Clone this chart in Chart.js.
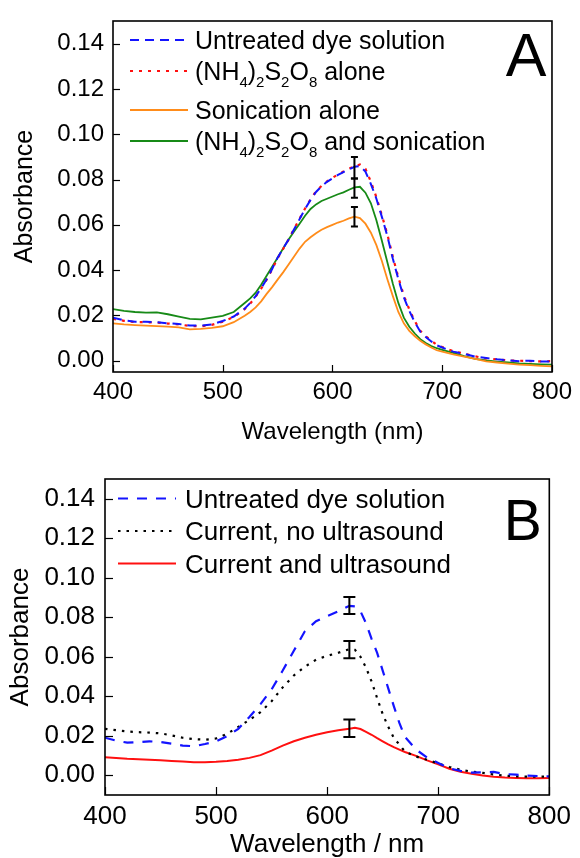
<!DOCTYPE html>
<html>
<head>
<meta charset="utf-8">
<script src="https://cdn.jsdelivr.net/npm/chart.js@4.4.1/dist/chart.umd.min.js"></script>
<style>
  html, body { margin: 0; padding: 0; background: #fff; }
  #wrap { position: relative; width: 580px; height: 858px; overflow: hidden; }
  canvas { position: absolute; left: 0; }
  #chartA { top: 0; }
  #chartB { top: 450px; }
</style>
</head>
<body>
<div id="wrap">
  <canvas id="chartA" width="580" height="450"></canvas>
  <canvas id="chartB" width="580" height="408"></canvas>
</div>
<script>
// ---- panel A data (wavelength in nm, absorbance) ----
const wlA = [400,410,420,430,440,450,460,470,480,490,500,510,520,
  525,530,535,540,545,550,555,560,565,570,575,580,585,590,595,600,605,610,615,620,625,630,635,640,645,650,655,660,665,670,675,680,685,690,695,700,
  710,720,730,740,750,760,770,780,790,800];

const untreatedA = [.0190,.0178,.0172,.0172,.0170,.0165,.0162,.0155,.0155,.0160,.0175,.0195,.0230,
  .0255,.0285,.0320,.0360,.0405,.0455,.0495,.0535,.0580,.0625,.0670,.0710,.0745,.0770,.0790,.0805,.0820,.0833,.0845,.0856,.0860,.0835,.0780,.0715,.0635,.0550,.0450,.0360,.0280,.0220,.0170,.0128,.0105,.0085,.0068,.0058,
  .0040,.0030,.0018,.0012,.0006,.0002,-.0002,.0000,-.0004,-.0003];

const persulfateA = [.0185,.0176,.0170,.0170,.0168,.0164,.0160,.0153,.0152,.0158,.0172,.0193,.0228,
  .0252,.0283,.0318,.0358,.0403,.0452,.0493,.0535,.0582,.0627,.0672,.0712,.0748,.0772,.0792,.0808,.0822,.0835,.0848,.0858,.0866,.0848,.0790,.0722,.0642,.0558,.0458,.0368,.0288,.0226,.0175,.0132,.0108,.0088,.0070,.0060,
  .0042,.0031,.0019,.0010,.0006,.0001,.0000,-.0002,-.0003,-.0002];

const sonicationA = [.0165,.0160,.0157,.0155,.0153,.0150,.0147,.0138,.0140,.0145,.0152,.0170,.0198,
  .0215,.0235,.0262,.0295,.0325,.0358,.0390,.0425,.0460,.0495,.0525,.0545,.0563,.0578,.0590,.0600,.0610,.0618,.0628,.0636,.0630,.0605,.0565,.0510,.0440,.0360,.0285,.0215,.0165,.0132,.0108,.0088,.0072,.0058,.0046,.0040,
  .0028,.0018,.0008,-.0003,-.0008,-.0013,-.0017,-.0020,-.0023,-.0025];

const bothA = [.0228,.0220,.0215,.0212,.0213,.0205,.0195,.0185,.0182,.0190,.0198,.0215,.0255,
  .0275,.0300,.0335,.0375,.0415,.0455,.0495,.0535,.0570,.0605,.0640,.0670,.0690,.0705,.0715,.0725,.0735,.0743,.0755,.0765,.0768,.0742,.0695,.0620,.0530,.0435,.0340,.0255,.0190,.0150,.0120,.0095,.0078,.0065,.0055,.0048,
  .0034,.0020,.0008,.0001,-.0004,-.0008,-.0012,-.0014,-.0016,-.0017];

const errWlA = [620, 620, 620];
const errMidA = [0.0852, 0.0762, 0.0636];
const errHalfA = [0.0047, 0.0043, 0.0043];

// ---- panel B data ----
const wlB = [400,410,420,430,440,450,460,470,480,490,500,510,520,530,540,550,560,570,580,590,600,610,
  620,625,630,635,640,645,650,655,660,665,670,
  680,690,700,710,720,730,740,750,760,770,780,790,800];

const untreatedB = [.0190,.0175,.0165,.0168,.0172,.0168,.0160,.0150,.0147,.0158,.0172,.0198,.0235,.0295,.0360,.0435,.0530,.0630,.0730,.0780,.0805,.0830,
  .0858,.0855,.0830,.0770,.0690,.0620,.0530,.0440,.0350,.0265,.0195,
  .0130,.0090,.0062,.0035,.0022,.0013,.0015,.0017,.0006,.0003,-.0002,-.0004,-.0006];

const currentB = [.0235,.0228,.0222,.0218,.0216,.0212,.0202,.0190,.0183,.0180,.0186,.0210,.0245,.0280,.0320,.0375,.0445,.0505,.0550,.0585,.0605,.0620,
  .0638,.0635,.0600,.0545,.0475,.0390,.0310,.0245,.0190,.0155,.0120,
  .0095,.0078,.0060,.0042,.0028,.0018,.0012,.0004,-.0002,-.0006,-.0007,-.0007,-.0006];

const currentUltraB = [.0091,.0087,.0083,.0081,.0079,.0076,.0072,.0069,.0066,.0066,.0068,.0072,.0078,.0088,.0102,.0125,.0150,.0172,.0190,.0205,.0218,.0228,
  .0236,.0240,.0234,.0220,.0205,.0188,.0172,.0156,.0142,.0130,.0118,
  .0098,.0075,.0055,.0033,.0018,.0008,-.0001,-.0008,-.0012,-.0014,-.0015,-.0015,-.0014];

const errWlB = [620, 620, 620];
const errMidB = [0.0859, 0.0636, 0.0238];
const errHalfB = [0.0043, 0.0044, 0.0044];

const xTicks = [400, 500, 600, 700, 800];
const yTicks = [0, 0.02, 0.04, 0.06, 0.08, 0.10, 0.12, 0.14];

const FONT = "'Liberation Sans', Arial, sans-serif";

function pts(xs, ys) {
  return xs.map((x, i) => ({ x: x, y: ys[i] }));
}

// frame box + inward tick marks
const frameTicks = {
  id: 'frameTicks',
  afterDatasetsDraw(chart, args, o) {
    const { ctx, chartArea: a, scales } = chart;
    ctx.save();
    ctx.strokeStyle = '#000';
    ctx.lineWidth = 1.2;
    scales.x.ticks.forEach(t => {
      const px = Math.round(scales.x.getPixelForValue(t.value)) + 0.5;
      ctx.beginPath(); ctx.moveTo(px, a.bottom); ctx.lineTo(px, a.bottom - o.len); ctx.stroke();
    });
    scales.y.ticks.forEach(t => {
      const py = Math.round(scales.y.getPixelForValue(t.value)) + 0.5;
      ctx.beginPath(); ctx.moveTo(a.left, py); ctx.lineTo(a.left + o.len, py); ctx.stroke();
    });
    ctx.lineWidth = 1.6;
    ctx.strokeRect(a.left, a.top, a.right - a.left, a.bottom - a.top);
    ctx.restore();
  }
};

// vertical error bars at given wavelengths
const errorBars = {
  id: 'errorBars',
  afterDatasetsDraw(chart, args, o) {
    const { ctx, scales } = chart;
    ctx.save();
    ctx.strokeStyle = '#000';
    ctx.lineWidth = 2;
    o.x.forEach((wl, i) => {
      const px = scales.x.getPixelForValue(wl);
      const top = scales.y.getPixelForValue(o.mid[i] + o.half[i]);
      const bot = scales.y.getPixelForValue(o.mid[i] - o.half[i]);
      ctx.beginPath();
      ctx.moveTo(px, top); ctx.lineTo(px, bot);
      ctx.moveTo(px - o.cap, top); ctx.lineTo(px + o.cap, top);
      ctx.moveTo(px - o.cap, bot); ctx.lineTo(px + o.cap, bot);
      ctx.stroke();
    });
    ctx.restore();
  }
};

// draws text, turning unicode subscript digits into small lowered digits
function drawRich(ctx, text, x, y, o) {
  let hasSub = false;
  ctx.fillStyle = '#000';
  ctx.textBaseline = 'alphabetic';
  ctx.textAlign = 'left';
  for (const ch of text) {
    const c = ch.charCodeAt(0);
    if (c >= 0x2080 && c <= 0x2089) {
      hasSub = true;
      ctx.font = o.subSize + 'px ' + FONT;
      const d = String(c - 0x2080);
      ctx.fillText(d, x, y + o.subDy);
      x += ctx.measureText(d).width;
    } else {
      ctx.font = o.size + 'px ' + FONT;
      ctx.fillText(ch, x, y);
      x += ctx.measureText(ch).width;
    }
  }
  return hasSub;
}

const richLegend = {
  id: 'richLegend',
  afterDraw(chart, args, o) {
    const { ctx, chartArea: a } = chart;
    let y = a.top + o.top;
    chart.data.datasets.forEach(ds => {
      ctx.save();
      ctx.strokeStyle = ds.borderColor;
      ctx.lineWidth = ds.borderWidth;
      ctx.setLineDash(ds.borderDash || []);
      ctx.beginPath();
      ctx.moveTo(a.left + o.x0, y);
      ctx.lineTo(a.left + o.x0 + o.len, y);
      ctx.stroke();
      const sub = drawRich(ctx, ds.label, a.left + o.textX, y + o.size * 0.36, o);
      ctx.restore();
      y += o.row + (sub ? o.subExtra : 0);
    });
    // panel letter
    ctx.save();
    ctx.font = o.letterSize + 'px ' + FONT;
    ctx.fillStyle = '#000';
    ctx.textAlign = 'right';
    ctx.textBaseline = 'alphabetic';
    ctx.fillText(o.letter, a.right - o.letterDx, a.top + o.letterDy);
    ctx.restore();
  }
};

function makeChart(id, p) {
  return new Chart(document.getElementById(id), {
    type: 'line',
    data: { datasets: p.datasets },
    options: {
      responsive: false,
      animation: false,
      devicePixelRatio: 1,
      layout: { padding: p.padding },
      elements: { point: { radius: 0 }, line: { tension: 0 } },
      plugins: {
        legend: { display: false },
        tooltip: { enabled: false },
        frameTicks: { len: p.tickLen },
        errorBars: p.err,
        richLegend: p.legend
      },
      scales: {
        x: {
          type: 'linear', min: 400, max: 800,
          grid: { display: false, drawTicks: false },
          border: { display: false },
          afterBuildTicks: s => { s.ticks = xTicks.map(v => ({ value: v })); },
          afterFit: s => { s.height = p.xHeight; },
          ticks: { color: '#000', padding: p.xTickPad, maxRotation: 0,
                   font: { family: FONT, size: p.tickSize, lineHeight: 1 } },
          title: { display: true, text: p.xTitle, color: '#000',
                   font: { family: FONT, size: p.xTitleSize, lineHeight: 1 },
                   padding: { top: 0, bottom: p.xTitlePad } }
        },
        y: {
          min: p.yMin, max: 0.15,
          grid: { display: false, drawTicks: false },
          border: { display: false },
          afterBuildTicks: s => { s.ticks = yTicks.map(v => ({ value: v })); },
          afterFit: s => { s.width = p.yWidth; },
          ticks: { color: '#000', padding: p.yTickPad,
                   font: { family: FONT, size: p.tickSize, lineHeight: 1 },
                   callback: v => v.toFixed(2) },
          title: { display: true, text: 'Absorbance', color: '#000',
                   font: { family: FONT, size: p.yTitleSize, lineHeight: 1 },
                   padding: { top: p.yTitlePad, bottom: 0 } }
        }
      }
    },
    plugins: [frameTicks, errorBars, richLegend]
  });
}

makeChart('chartA', {
  datasets: [
    { label: 'Untreated dye solution', data: pts(wlA, untreatedA), borderColor: '#1414ff', borderWidth: 2, borderDash: [9, 6] },
    { label: '(NH\u2084)\u2082S\u2082O\u2088 alone', data: pts(wlA, persulfateA), borderColor: '#ff1010', borderWidth: 2.2, borderDash: [3, 6] },
    { label: 'Sonication alone', data: pts(wlA, sonicationA), borderColor: '#ff8c1a', borderWidth: 1.8 },
    { label: '(NH\u2084)\u2082S\u2082O\u2088 and sonication', data: pts(wlA, bothA), borderColor: '#178a17', borderWidth: 1.8 }
  ],
  padding: { left: 0, right: 21.5, top: 14, bottom: 0 },
  xHeight: 78, yWidth: 113, tickLen: 7,
  tickSize: 24, xTickPad: 8, yTickPad: 9,
  xTitle: 'Wavelength (nm)', xTitleSize: 24, xTitlePad: 6,
  yMin: -0.005, yTitleSize: 25, yTitlePad: 12.5,
  err: { x: errWlA, mid: errMidA, half: errHalfA, cap: 3.5 },
  legend: { top: 19, x0: 17, len: 58, textX: 82, row: 31, subExtra: 8, size: 25, subSize: 15, subDy: 7,
            letter: 'A', letterSize: 61, letterDx: 5.5, letterDy: 55 }
});

makeChart('chartB', {
  datasets: [
    { label: 'Untreated dye solution', data: pts(wlB, untreatedB), borderColor: '#1414ff', borderWidth: 2.2, borderDash: [10, 9] },
    { label: 'Current, no ultrasound', data: pts(wlB, currentB), borderColor: '#000', borderWidth: 2.2, borderDash: [2.5, 6] },
    { label: 'Current and ultrasound', data: pts(wlB, currentUltraB), borderColor: '#ff1010', borderWidth: 2 }
  ],
  padding: { left: 0, right: 29.5, top: 29, bottom: 0 },
  xHeight: 63, yWidth: 105, tickLen: 8,
  tickSize: 26, xTickPad: 9, yTickPad: 10,
  xTitle: 'Wavelength / nm', xTitleSize: 26, xTitlePad: 0,
  yMin: -0.01, yTitleSize: 26, yTitlePad: 8,
  err: { x: errWlB, mid: errMidB, half: errHalfB, cap: 6 },
  legend: { top: 19.5, x0: 13, len: 58, textX: 80, row: 32.5, subExtra: 0, size: 26, subSize: 16, subDy: 7,
            letter: 'B', letterSize: 57, letterDx: 7.5, letterDy: 61 }
});
</script>
</body>
</html>
